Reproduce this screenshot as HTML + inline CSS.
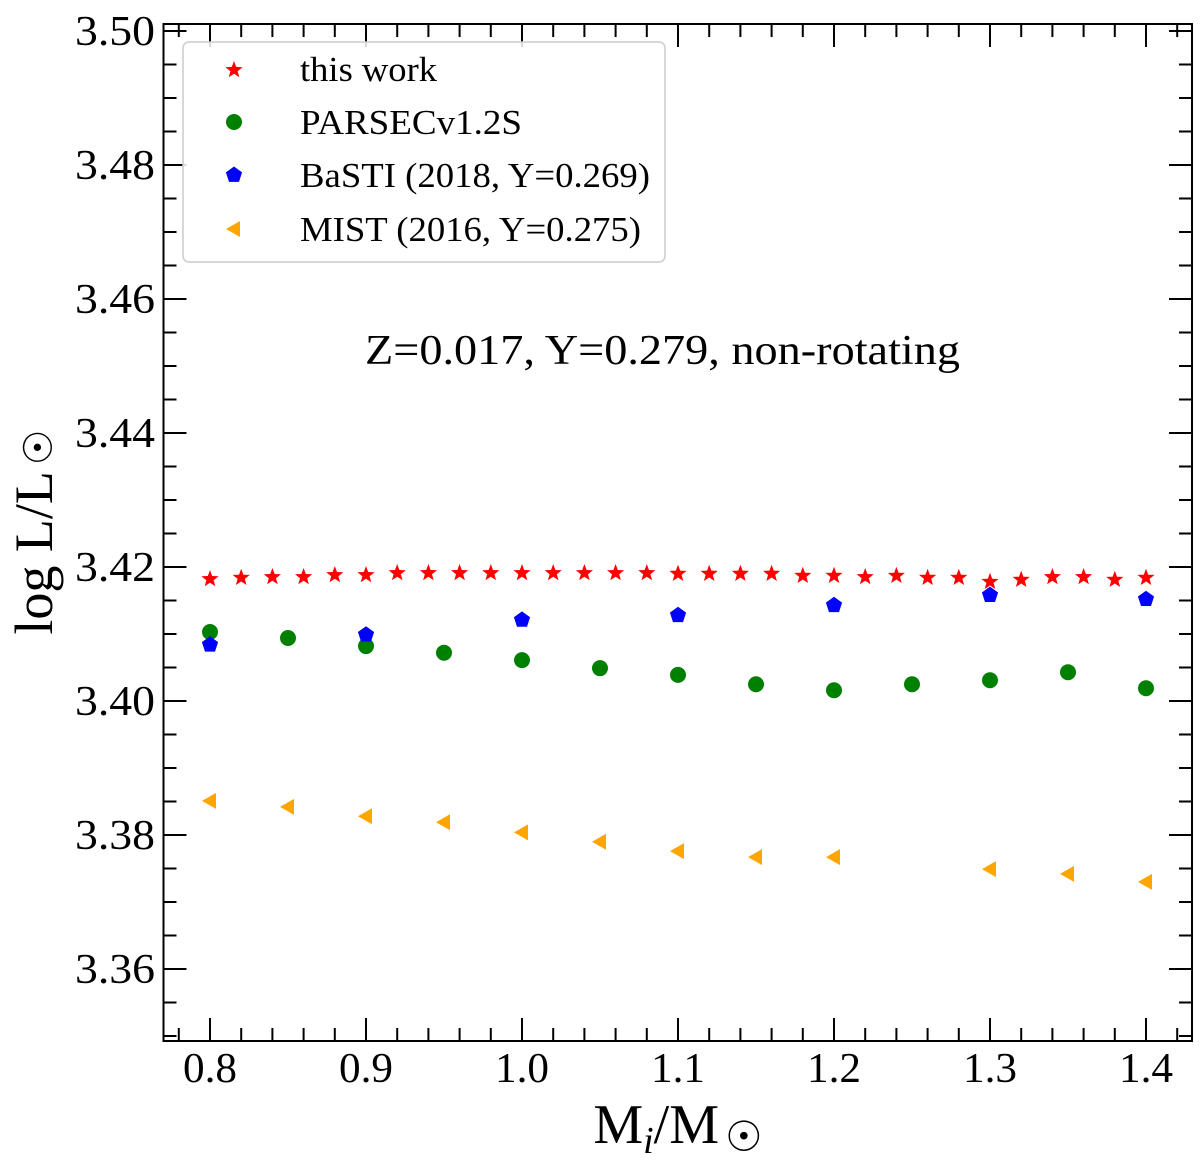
<!DOCTYPE html>
<html><head><meta charset="utf-8"><style>
body{margin:0;background:#fff}
svg text{font-family:"Liberation Serif",serif;fill:#000}
</style></head><body>
<svg id="chart" width="1200" height="1162" viewBox="0 0 1200 1162" xmlns="http://www.w3.org/2000/svg">
<g id="ticks"></g>
<g id="marks"></g>
<rect x="163.5" y="24" width="1028.5" height="1017" fill="none" stroke="#000" stroke-width="2"/>
<g>
<rect x="183" y="42" width="482" height="220" rx="6" fill="#fff" fill-opacity="0.85" stroke="#ccc" stroke-width="1.5"/>
<g id="legendMarks"></g>
<text x="300" y="81" font-size="35" textLength="137" lengthAdjust="spacingAndGlyphs">this work</text>
<text x="300" y="134" font-size="35" textLength="222" lengthAdjust="spacingAndGlyphs">PARSECv1.2S</text>
<text x="300" y="187" font-size="35" textLength="350" lengthAdjust="spacingAndGlyphs">BaSTI (2018, Y=0.269)</text>
<text x="300" y="241" font-size="35" textLength="341" lengthAdjust="spacingAndGlyphs">MIST (2016, Y=0.275)</text>
</g>
<text x="365" y="364" font-size="42" textLength="595" lengthAdjust="spacingAndGlyphs">Z=0.017, Y=0.279, non-rotating</text>
<text transform="translate(52,532) rotate(-90)" text-anchor="middle" font-size="54">log L/L<tspan font-size="40" dx="6">☉</tspan></text>
<text x="678" y="1143" text-anchor="middle" font-size="56">M<tspan font-style="italic" font-size="38" dy="10">i</tspan><tspan dy="-10">/M</tspan><tspan font-size="42" dx="6" dy="8">☉</tspan></text>
</svg>
<script>
const starX=[0.80,0.82,0.84,0.86,0.88,0.90,0.92,0.94,0.96,0.98,1.00,1.02,1.04,1.06,1.08,1.10,1.12,1.14,1.16,1.18,1.20,1.22,1.24,1.26,1.28,1.30,1.32,1.34,1.36,1.38,1.40];
const starY=[3.4182,3.4184,3.4185,3.4185,3.4188,3.4188,3.4191,3.4191,3.4191,3.4191,3.4191,3.4191,3.4191,3.4191,3.4191,3.4190,3.4190,3.4190,3.4190,3.4187,3.4187,3.4185,3.4187,3.4184,3.4184,3.4178,3.4181,3.4185,3.4185,3.4181,3.4184];
const parsecX=[0.80,0.85,0.90,0.95,1.00,1.05,1.10,1.15,1.20,1.25,1.30,1.35,1.40];
const parsecY=[3.4103,3.4094,3.4082,3.4072,3.4061,3.4049,3.4039,3.4025,3.4016,3.4025,3.4031,3.4043,3.4019];
const bastiX=[0.8,0.9,1.0,1.1,1.2,1.3,1.4];
const bastiY=[3.4084,3.4099,3.4121,3.4128,3.4143,3.4158,3.4152];
const mistX=[0.80,0.85,0.90,0.95,1.00,1.05,1.10,1.15,1.20,1.30,1.35,1.40];
const mistY=[3.3851,3.3842,3.3828,3.3819,3.3804,3.3790,3.3776,3.3767,3.3767,3.3749,3.3742,3.3730];
const xTicks=["0.8","0.9","1.0","1.1","1.2","1.3","1.4"];
const yTicks=["3.36","3.38","3.40","3.42","3.44","3.46","3.48","3.50"];

const NS="http://www.w3.org/2000/svg";
const X=v=>210+(v-0.8)*1560;
const Y=v=>969-(v-3.36)*6700;
const L=163.5,R=1192,T=24,B=1041;
function mk(t,a,p){const e=document.createElementNS(NS,t);for(const k in a)e.setAttribute(k,a[k]);p.appendChild(e);return e;}
const tk=document.getElementById('ticks');
for(let i=0;i<=40;i++){const v=0.76+i*0.02;const x=X(v);if(x<L||x>R)continue;
 const major=Math.abs((v*10)-Math.round(v*10))<1e-6;const len=major?23:13;
 let l=mk('line',{x1:x,x2:x,y1:B,y2:B-len,stroke:'#000','stroke-width':2},tk);
 
 
 l=mk('line',{x1:x,x2:x,y1:T,y2:T+len,stroke:'#000','stroke-width':2},tk);
 
 }
xTicks.forEach(s=>{const t=mk('text',{x:X(+s),y:1082,'text-anchor':'middle','font-size':42,textLength:54,lengthAdjust:'spacingAndGlyphs'},tk);t.textContent=s;
 
 });
for(let i=0;i<=40;i++){const v=3.345+i*0.005;const y=Y(v);if(y<T||y>B)continue;
 const major=Math.abs(v*50-Math.round(v*50))<1e-6;const len=major?23:13;
 let l=mk('line',{x1:L,x2:L+len,y1:y,y2:y,stroke:'#000','stroke-width':2},tk);
 
 
 l=mk('line',{x1:R,x2:R-len,y1:y,y2:y,stroke:'#000','stroke-width':2},tk);
 
 }
yTicks.forEach(s=>{const t=mk('text',{x:75,y:Y(+s)+14,'font-size':42,textLength:80,lengthAdjust:'spacingAndGlyphs'},tk);t.textContent=s;
 
 });

function star(cx,cy,r){let p=[];for(let i=0;i<10;i++){const a=-Math.PI/2+i*Math.PI/5;const rr=i%2?r*0.42:r;p.push((cx+rr*Math.cos(a)).toFixed(1)+','+(cy+rr*Math.sin(a)).toFixed(1));}return p.join(' ');}
function pent(cx,cy,r){let p=[];for(let i=0;i<5;i++){const a=-Math.PI/2+i*2*Math.PI/5;p.push((cx+r*Math.cos(a)).toFixed(1)+','+(cy+r*Math.sin(a)).toFixed(1));}return p.join(' ');}
function tri(cx,cy,r){return `${cx-r},${cy} ${cx+r*0.75},${cy-r} ${cx+r*0.75},${cy+r}`;}
function drawStar(g,x,y){return mk('polygon',{points:star(x,y,9),fill:'#ff0000'},g);}
function drawCirc(g,x,y){return mk('circle',{cx:x,cy:y,r:8,fill:'#008000'},g);}
function drawPent(g,x,y){return mk('polygon',{points:pent(x,y,8.5),fill:'#0000ff'},g);}
function drawTri(g,x,y){return mk('polygon',{points:tri(x,y,8),fill:'#ffa500'},g);}
const m=document.getElementById('marks');
parsecX.forEach((v,i)=>{const e=drawCirc(m,X(v),Y(parsecY[i]));
 
 });
bastiX.forEach((v,i)=>{const e=drawPent(m,X(v),Y(bastiY[i]));
 
 });
mistX.forEach((v,i)=>{const e=drawTri(m,X(v),Y(mistY[i]));
 
 });
starX.forEach((v,i)=>{const e=drawStar(m,X(v),Y(starY[i]));
 
 });
const lm=document.getElementById('legendMarks');
let e=drawStar(lm,234,70);


e=drawCirc(lm,234,122);


e=drawPent(lm,234,175);


e=drawTri(lm,234,229);


</script>
</body></html>
